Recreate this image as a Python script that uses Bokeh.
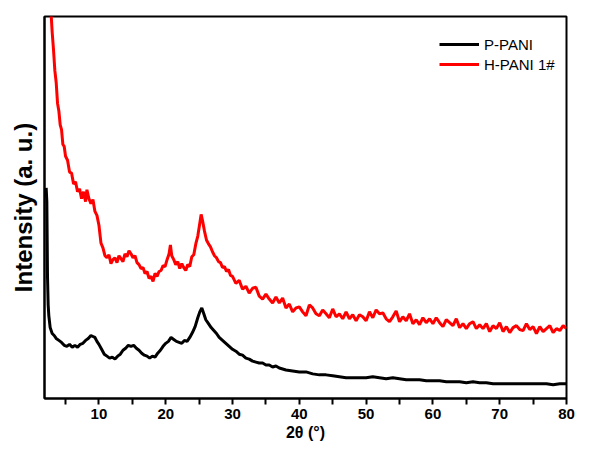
from bokeh.plotting import figure
from bokeh.models import FixedTicker, Legend, LegendItem, Range1d
from bokeh.embed import file_html
from bokeh.resources import INLINE

# ---------------- data ----------------
black_2theta = [2.10, 2.2, 2.3, 2.4, 2.5, 2.7, 3.0, 3.3, 3.6, 4.0, 4.4, 4.8, 5.2, 5.6, 6.0, 6.4,
                6.8, 7.2, 7.6, 8.0, 8.4, 8.8, 9.1, 9.4, 9.7, 10.0, 10.4, 10.8, 11.2, 11.6, 12.0,
                12.4, 12.8, 13.2, 13.6, 14.0, 14.4, 14.8, 15.2, 15.6, 16.0, 16.4, 16.8, 17.2,
                17.6, 18.0, 18.4, 18.8, 19.2, 19.6, 20.0, 20.4, 20.8, 21.2, 21.6, 22.0, 22.4,
                22.8, 23.2, 23.6, 24.0, 24.4, 24.8, 25.1, 25.4, 25.7, 26.0, 26.4, 26.8, 27.2,
                27.6, 28.0, 28.5, 29.0, 29.5, 30.0, 30.5, 31.0, 31.5, 32.0, 32.5, 33.0, 33.5,
                34.0, 34.5, 35.0, 35.5, 36.0, 36.5, 37.0, 37.5, 38.0, 39.0, 40.0, 41.0, 42.0,
                43.0, 44.0, 45.0, 46.0, 47.0, 48.0, 49.0, 50.0, 51.0, 52.0, 53.0, 54.0, 55.0,
                56.0, 57.0, 58.0, 59.0, 60.0, 61.0, 62.0, 63.0, 64.0, 65.0, 66.0, 67.0, 68.0,
                69.0, 70.0, 71.0, 72.0, 73.0, 74.0, 75.0, 76.0, 77.0, 78.0, 79.0, 80.0]
black_intensity = [214, 200, 124, 95, 84, 72, 66, 64, 61, 59, 57, 54, 53, 55, 52, 54,
                   52, 55, 56, 59, 61, 64, 63, 62, 58, 55, 50, 45, 43, 41, 42,
                   40, 43, 45, 49, 51, 54, 53, 54, 51, 49, 46, 44, 43,
                   41, 43, 42, 46, 49, 53, 56, 58, 62, 60, 58, 57, 56,
                   59, 58, 62, 67, 73, 82, 88, 92, 86, 80, 76, 72, 69,
                   66, 62, 59, 56, 53, 50, 48, 45, 44, 41, 40, 38, 37,
                   36, 36, 34, 34, 32, 33, 31, 30, 29, 28, 27, 27, 25,
                   24, 24, 23, 22, 21, 21, 21, 21, 22, 21, 20, 21, 20,
                   19, 19, 19, 18, 18, 18, 17, 17, 17, 16, 17, 16, 16,
                   15, 15, 15, 15, 15, 15, 15, 15, 15, 14, 15, 15]

red_2theta = [2.2, 2.5, 2.8, 3.0, 3.2, 3.4, 3.6, 3.8, 4.0, 4.2, 4.4, 4.6, 4.8, 5.0, 5.3, 5.6,
              5.9, 6.2, 6.5, 6.8, 7.1, 7.4, 7.7, 8.0, 8.2, 8.5, 8.8, 9.1, 9.4, 9.7,
              10.0, 10.3, 10.6, 10.9, 11.2, 11.5, 11.8, 12.1, 12.4, 12.7, 13.0, 13.3, 13.6,
              13.9, 14.2, 14.5, 14.8, 15.1, 15.4, 15.7, 16.0, 16.3, 16.6, 16.9, 17.2, 17.5,
              17.8, 18.1, 18.4, 18.7, 19.0, 19.3, 19.6, 19.9, 20.2, 20.5, 20.7, 20.9, 21.2,
              21.5, 21.8, 22.1, 22.4, 22.7, 23.0, 23.3, 23.6, 23.9, 24.2, 24.5, 24.8, 25.1,
              25.3, 25.5, 25.8, 26.1, 26.4, 26.7, 27.0, 27.3, 27.6, 27.9, 28.2, 28.5, 28.8,
              29.1, 29.4, 29.7,
              30.0, 30.5, 31.0, 31.5, 32.0, 32.5, 33.0, 33.5, 34.0, 34.5, 35.0, 35.5, 36.0,
              36.5, 37.0, 37.5, 38.0, 38.5, 39.0, 39.5, 40.0, 40.5, 41.0, 41.5, 42.0, 42.5,
              43.0, 43.5, 44.0, 44.5, 45.0, 45.5, 46.0, 46.5, 47.0, 47.5, 48.0, 48.5, 49.0,
              49.5, 50.0, 50.5, 51.0, 51.5, 52.0, 52.5, 53.0, 53.5, 54.0, 54.5, 55.0, 55.5,
              56.0, 56.5, 57.0, 57.5, 58.0, 58.5, 59.0, 59.5, 60.0, 60.5, 61.0, 61.5, 62.0,
              62.5, 63.0, 63.5, 64.0, 64.5, 65.0, 65.5, 66.0, 66.5, 67.0, 67.5, 68.0, 68.5,
              69.0, 69.5, 70.0, 70.5, 71.0, 71.5, 72.0, 72.5, 73.0, 73.5, 74.0, 74.5, 75.0,
              75.5, 76.0, 76.5, 77.0, 77.5, 78.0, 78.5, 79.0, 79.5, 80.0]
red_intensity = [520, 450, 395, 372, 354, 333, 321, 300, 292, 278, 273, 258, 256, 246, 242, 230,
                 229, 218, 220, 210, 213, 203, 210, 200, 212, 203, 198, 202, 190, 186,
                 176, 158, 153, 145, 143, 146, 137, 141, 143, 138, 145, 142, 139,
                 147, 144, 150, 147, 143, 145, 138, 136, 132, 133, 127, 129, 122,
                 124, 119, 127, 124, 129, 130, 135, 134, 141, 147, 156, 145, 141,
                 136, 139, 132, 137, 133, 130, 136, 134, 144, 146, 157, 165, 178,
                 187, 181, 170, 161, 157, 154, 149, 145, 143, 139, 138, 133, 134,
                 129, 131, 125,
                 124, 117, 120, 111, 114, 107, 112, 113, 104, 101, 106, 101, 97,
                 103, 97, 102, 92, 96, 88, 92, 93, 88, 84, 95, 92, 86,
                 84, 90, 86, 82, 91, 83, 86, 81, 88, 81, 85, 79, 85,
                 83, 79, 88, 82, 90, 86, 87, 81, 78, 83, 89, 78, 83,
                 79, 86, 76, 80, 75, 82, 77, 81, 76, 82, 77, 73, 80,
                 77, 74, 81, 72, 76, 71, 76, 78, 71, 75, 71, 76, 68,
                 74, 71, 77, 68, 73, 67, 72, 74, 70, 69, 76, 70, 73,
                 66, 73, 68, 71, 74, 67, 71, 69, 74, 71]

x_major_ticks = [10, 20, 30, 40, 50, 60, 70, 80]
x_minor_ticks = [5, 15, 25, 35, 45, 55, 65, 75]
series_names = ["P-PANI", "H-PANI 1#"]

assert len(red_2theta) == len(red_intensity)
assert len(black_2theta) == len(black_intensity)

FONT = "Liberation Sans"

p = figure(width=576, height=444, output_backend="svg", toolbar_location=None,
           x_range=Range1d(1.85, 80), y_range=Range1d(0, 388),
           min_border_left=44, min_border_right=10, min_border_top=16, min_border_bottom=46)
p.background_fill_color = "white"
p.border_fill_color = "white"
p.grid.visible = False
p.outline_line_color = "black"
p.outline_line_width = 2

r_black = p.line(black_2theta, black_intensity, line_color="black", line_width=3)
r_red = p.line(red_2theta, red_intensity, line_color="#ff0000", line_width=3)

xa = p.xaxis[0]
xa.ticker = FixedTicker(ticks=x_major_ticks, minor_ticks=x_minor_ticks)
xa.axis_line_width = 2
xa.major_tick_line_width = 2
xa.minor_tick_line_width = 2
xa.major_tick_in = 0
xa.major_tick_out = 6
xa.minor_tick_in = 0
xa.minor_tick_out = 6
xa.major_label_text_font = FONT
xa.major_label_text_font_style = "bold"
xa.major_label_text_font_size = "15px"
xa.major_label_text_color = "black"
xa.major_label_standoff = 4
xa.axis_label = "2θ (°)"
xa.axis_label_text_font = FONT
xa.axis_label_text_font_style = "bold"
xa.axis_label_text_font_size = "16px"
xa.axis_label_text_color = "black"
xa.axis_label_standoff = 2

ya = p.yaxis[0]
ya.ticker = FixedTicker(ticks=[])
ya.axis_line_width = 2
ya.major_tick_line_color = None
ya.minor_tick_line_color = None
ya.major_label_text_font_size = "0px"
ya.axis_label = "Intensity (a. u.)"
ya.axis_label_text_font = FONT
ya.axis_label_text_font_style = "bold"
ya.axis_label_text_font_size = "24px"
ya.axis_label_text_color = "black"
ya.axis_label_standoff = 8

legend = Legend(items=[LegendItem(label=series_names[0], renderers=[r_black]),
                       LegendItem(label=series_names[1], renderers=[r_red])],
                location=(395, 324))
legend.border_line_color = None
legend.background_fill_alpha = 0
legend.label_text_font = FONT
legend.label_text_font_size = "15px"
legend.label_text_color = "black"
legend.glyph_width = 40
legend.glyph_height = 20
legend.label_height = 20
legend.label_standoff = 5
legend.spacing = 0
legend.padding = 0
legend.margin = 0
p.add_layout(legend)

open("out.html", "w").write(file_html(p, INLINE))
